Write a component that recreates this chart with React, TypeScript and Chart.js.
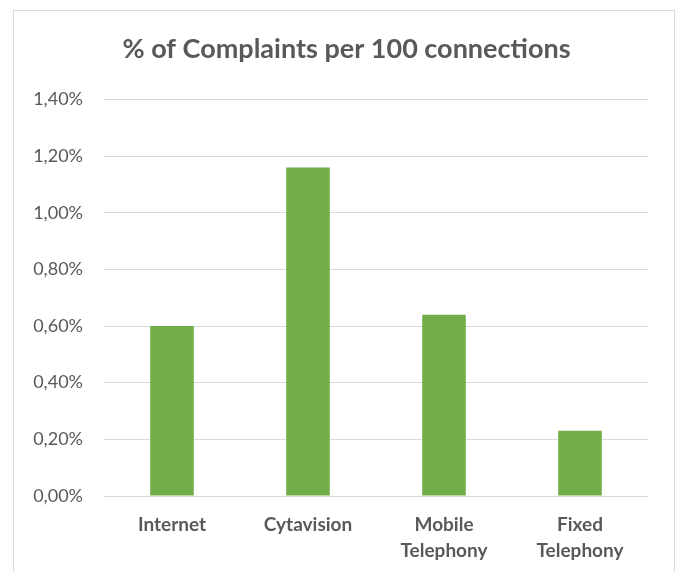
import React, { useEffect, useRef } from "react";
import { Chart, registerables } from "chart.js";

Chart.register(...registerables);

const categories: (string | string[])[] = ["Internet", "Cytavision", ["Mobile", "Telephony"], ["Fixed", "Telephony"]];
const values: number[] = [0.60, 1.16, 0.64, 0.23];
const yMin = 0;
const yMax = 1.4;
const yStep = 0.2;
const titleText = "% of Complaints per 100 connections";

const FONT = "Lato, 'Open Sans', sans-serif";
const TEXT = "#595959";

export default function App() {
  const ref = useRef<HTMLCanvasElement | null>(null);
  useEffect(() => {
    if (!ref.current) return;
    const chart = new Chart(ref.current, {
      type: "bar",
      data: {
        labels: categories,
        datasets: [
          {
            data: values,
            backgroundColor: "#70AD47",
            borderWidth: 0,
            categoryPercentage: 1,
            barPercentage: 0.32,
          },
        ],
      },
      options: {
        animation: false,
        responsive: false,
        devicePixelRatio: 1,
        layout: { padding: { left: 12, right: 0, top: 0, bottom: 0 } },
        plugins: {
          legend: { display: false },
          tooltip: { enabled: false },
          title: {
            display: true,
            text: titleText,
            color: TEXT,
            font: { family: FONT, size: 27, weight: "bold", lineHeight: 1.2 },
            padding: { top: 33, bottom: 34 },
          },
        },
        scales: {
          x: {
            grid: { display: false, drawTicks: false },
            border: { display: false },
            ticks: {
              color: TEXT,
              font: { family: FONT, size: 19, weight: "bold", lineHeight: 1.37 },
              padding: 16,
              maxRotation: 0,
              autoSkip: false,
            },
            afterFit: (scale: any) => {
              scale.height = 76;
            },
          },
          y: {
            min: yMin,
            max: yMax,
            grid: { color: "#d9d9d9", lineWidth: 1, drawTicks: false },
            border: { display: false },
            ticks: {
              stepSize: yStep,
              color: TEXT,
              font: { family: FONT, size: 18 },
              padding: 21,
              callback: (v: any) => Number(v).toFixed(2).replace(".", ",") + "%",
            },
            afterFit: (scale: any) => {
              scale.width = 92;
            },
          },
          yRight: {
            position: "right",
            display: true,
            grid: { display: false, drawTicks: false },
            border: { display: false },
            ticks: { display: false },
            afterFit: (scale: any) => {
              scale.width = 33;
            },
          },
        },
      },
    });
    return () => chart.destroy();
  }, []);

  return (
    <div style={{ position: "absolute", left: 0, top: 0, width: 681, height: 572, background: "#fff", overflow: "hidden" }}>
      <div
        style={{
          position: "absolute",
          left: 13,
          top: 10,
          width: 662,
          height: 600,
          border: "1px solid #d9d9d9",
          boxSizing: "border-box",
        }}
      />
      <canvas ref={ref} width={681} height={572} style={{ position: "absolute", left: 0, top: 0, width: 681, height: 572 }} />
    </div>
  );
}
